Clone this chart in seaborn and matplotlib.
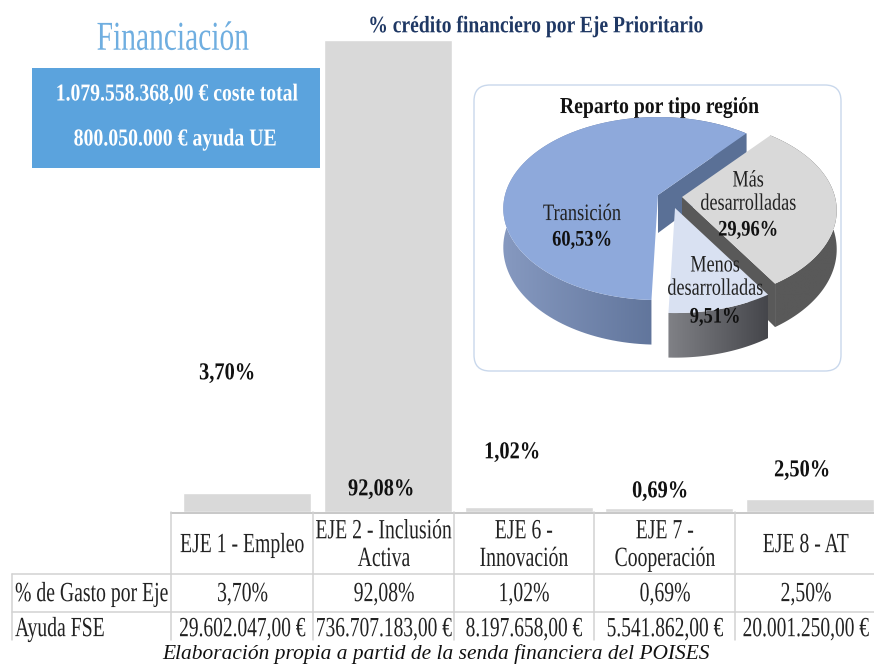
import numpy as np
import pandas as pd
import matplotlib
matplotlib.use("Agg")
import matplotlib.pyplot as plt
from matplotlib.patches import FancyBboxPatch, Polygon, Rectangle
from matplotlib.path import Path
from matplotlib.patheffects import AbstractPathEffect
from matplotlib.transforms import Affine2D
import seaborn as sns

# ---- data ----
ejes = ["EJE 1 - Empleo", "EJE 2 - Inclusión\nActiva", "EJE 6 -\nInnovación", "EJE 7 -\nCooperación", "EJE 8 - AT"]
gasto = [3.70, 92.08, 1.02, 0.69, 2.50]
gasto_lbl = ["3,70%", "92,08%", "1,02%", "0,69%", "2,50%"]
ayuda_lbl = ["29.602.047,00 €", "736.707.183,00 €", "8.197.658,00 €", "5.541.862,00 €", "20.001.250,00 €"]
regiones = ["Transición", "Menos\ndesarrolladas", "Más\ndesarrolladas"]
reparto = [60.53, 9.51, 29.96]
reparto_lbl = ["60,53%", "9,51%", "29,96%"]

W, H = 874, 666
sns.set_theme(style="white")
plt.rcParams["font.family"] = ["Liberation Serif", "DejaVu Serif"]
fig = plt.figure(figsize=(W / 100, H / 100), dpi=100, facecolor="white")


class Tall(AbstractPathEffect):
    """Stretch the glyphs of a text vertically, keeping cap middle on the line's centre."""

    def __init__(self, sy):
        super().__init__()
        self.sy = sy

    def draw_path(self, renderer, gc, tpath, affine, rgbFace=None):
        t = Affine2D().translate(0, -33).scale(1, self.sy).translate(0, 23) + affine
        renderer.draw_path(gc, tpath, t, rgbFace)


def box(x0, y0, x1, y1):
    return [x0 / W, 1 - y1 / H, (x1 - x0) / W, (y1 - y0) / H]


def put(a, x, y, s, size, sx, color="#222222", bold=False, ha="center", z=50, linespacing=1.2):
    t = a.text(x, y, s, ha=ha, va="center", fontsize=size * sx, color=color,
               fontweight="bold" if bold else "normal", zorder=z, linespacing=linespacing / sx)
    t.set_path_effects([Tall(1 / sx)])
    return t


# ---- bars ----
ax = fig.add_axes(box(177.1, 39.5, 880.1, 512))
df = pd.DataFrame({"eje": ejes, "gasto": gasto})
sns.barplot(data=df, x="eje", y="gasto", color="#D9D9D9", saturation=1, width=0.91, ax=ax)
ax.set_xlim(-0.5, 4.5)
ax.set_ylim(0, max(gasto))
ax.axis("off")

# ---- overlay in pixel coordinates ----
ov = fig.add_axes([0, 0, 1, 1], zorder=1)
ov.set_xlim(0, W)
ov.set_ylim(H, 0)
ov.axis("off")
ov.patch.set_alpha(0)

# table lines
grid = "#D2D2D2"
cols = [171, 313, 454, 594, 735]
ov.plot([171, 874], [512.5, 512.5], color="#C4C4C4", lw=1.3)
ov.plot([12, 874], [574, 574], color=grid, lw=1.1)
ov.plot([12, 874], [611.5, 611.5], color=grid, lw=1.1)
ov.plot([12, 12], [574, 640], color=grid, lw=1.1)
for c in cols:
    ov.plot([c, c], [512, 640], color=grid, lw=1.1)

centers = [242.5, 384, 524, 665, 806]
for c, e, g, a in zip(centers, ejes, gasto_lbl, ayuda_lbl):
    put(ov, c, 543, e, 20, 0.71, linespacing=1.15)
    put(ov, c, 592, g, 20, 0.71)
    put(ov, c, 627, a, 20, 0.70)
put(ov, 15, 592, "% de Gasto por Eje", 20, 0.71, ha="left")
put(ov, 15, 627, "Ayuda FSE", 20, 0.71, ha="left")
ov.text(436, 654, "Elaboración propia a partid de la senda financiera del POISES",
        ha="center", va="center", fontsize=15.4, style="italic", color="#111111")

# bar value labels
lab_pos = [(227, 371), (381, 487), (512, 450), (660, 489), (802, 468)]
for (x, y), g in zip(lab_pos, gasto_lbl):
    put(ov, x, y, g, 17.5, 0.84, color="#111111", bold=True)

# titles and box
put(ov, 173, 36, "Financiación", 29.5, 0.72, color="#6FAEE0")
put(ov, 536, 24, "% crédito financiero por Eje Prioritario", 17, 0.83, color="#1F3864", bold=True)
ov.add_patch(Rectangle((32, 68), 288, 100, facecolor="#5BA3DD", edgecolor="none"))
put(ov, 176, 92, "1.079.558.368,00 € coste total", 17.5, 0.81, color="white", bold=True)
put(ov, 175, 137, "800.050.000 € ayuda UE", 17.5, 0.815, color="white", bold=True)

# ---- pie panel ----
ov.add_patch(FancyBboxPatch((474, 85), 367, 286, boxstyle="round,pad=0,rounding_size=16",
                            facecolor="white", edgecolor="#C9D8EC", lw=1.0))
put(ov, 660, 105, "Reparto por tipo región", 16.5, 0.86, color="#111111", bold=True)

pa = fig.add_axes([0, 0, 1, 1], zorder=2)
wedges, _ = pa.pie(reparto, startangle=50, counterclock=True,
                   colors=["#8EA9DB", "#D9E1F2", "#D9D9D9"],
                   wedgeprops={"linewidth": 0})
pa.set_aspect("auto")
pa.set_xlim(0, W)
pa.set_ylim(H, 0)
pa.axis("off")
pa.patch.set_alpha(0)

A, B, K, DEPTH = 153.0, 89.5, 0.148, 38.0
apex = [(658, 195), (675, 208), (682, 197)]
side_col = [("#8699C0", "#4A5F85"), ("#808186", "#45464B"), ("#595959", "#595959")]
face_col = ["#5A7096", None, "#595959"]
order = {0: 10, 2: 20, 1: 30}


def arc(ap, t1, t2, drop=False, n=120):
    t = np.radians(np.linspace(t1, t2, n))
    d = 1 + K * np.sin(t)
    x = ap[0] + A * np.cos(t) / d
    y = ap[1] - B * np.sin(t) / d
    if drop:
        y = y + DEPTH / d
    return np.column_stack([x, y])


def gradient(colors, extent, clip, z):
    c = np.array([matplotlib.colors.to_rgb(k) for k in colors])
    g = np.linspace(0, 1, 128)[None, :, None]
    img = c[0][None, None, :] * (1 - g) + c[1][None, None, :] * g
    im = pa.imshow(img, extent=extent, aspect="auto", zorder=z, interpolation="bilinear")
    im.set_clip_path(clip)


for i, w in enumerate(wedges):
    z = order[i]
    ap = apex[i]
    top = arc(ap, w.theta1, w.theta2)
    low = arc(ap, w.theta1, w.theta2, drop=True)
    band = np.vstack([top, low[::-1]])
    clip = Polygon(band, closed=True, facecolor="none", edgecolor="none",
                   transform=pa.transData, zorder=z)
    pa.add_patch(clip)
    gradient(side_col[i], (band[:, 0].min(), band[:, 0].max(), band[:, 1].max(), band[:, 1].min()), clip, z)
    if face_col[i] is not None:
        # cut face under the straight edge at the slice's first angle
        pa.add_patch(Polygon([ap, top[0], low[0], (ap[0], ap[1] + DEPTH)], closed=True,
                             facecolor=face_col[i], edgecolor="none", zorder=z + 1))
    w._path = Path(np.vstack([[ap], top, [ap]]), closed=True)
    w.set_zorder(z + 2)

# pie labels
put(pa, 582, 212, regiones[0], 17, 0.78)
put(pa, 582, 238, reparto_lbl[0], 16, 0.83, color="#111111", bold=True)
put(pa, 748, 190, regiones[2], 17, 0.77, linespacing=1.14)
put(pa, 748, 228, reparto_lbl[2], 16, 0.83, color="#111111", bold=True)
put(pa, 715, 275, regiones[1], 17, 0.77, linespacing=1.14)
put(pa, 715, 315, reparto_lbl[1], 16, 0.83, color="#111111", bold=True)

fig.savefig("out.png", dpi=100)
